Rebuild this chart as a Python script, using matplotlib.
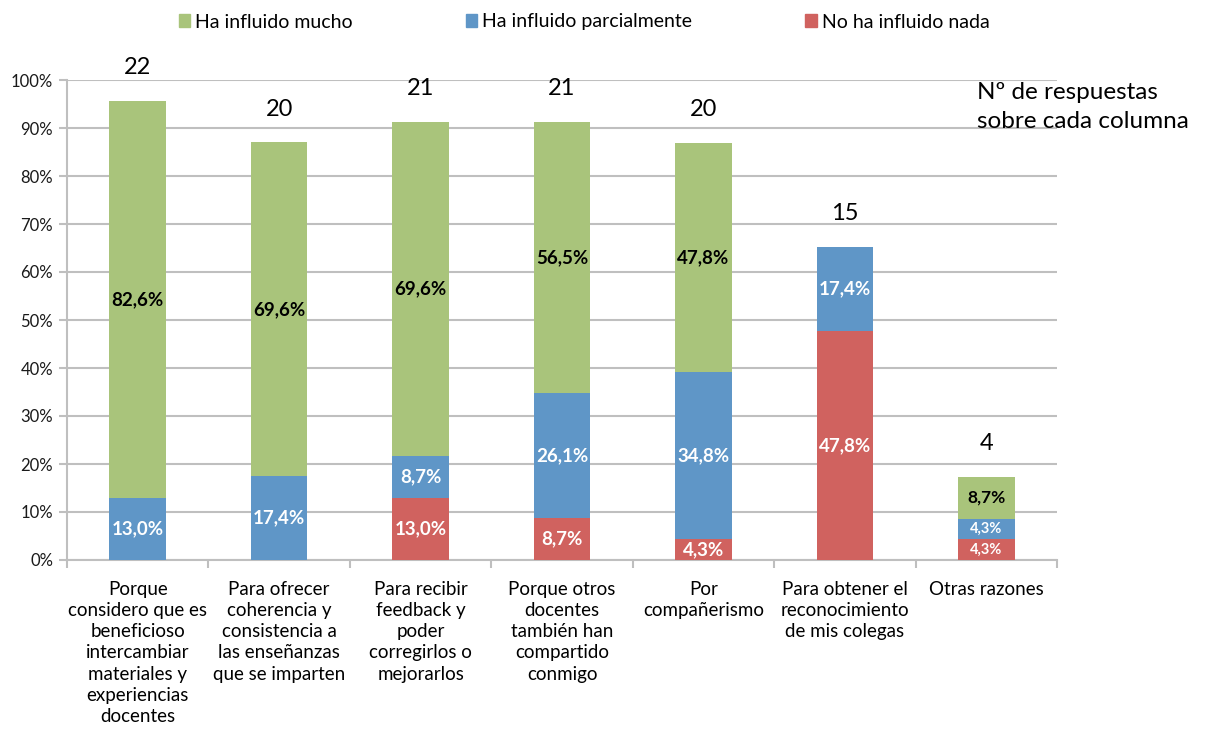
import matplotlib
matplotlib.use("Agg")
import matplotlib.pyplot as plt
from matplotlib.patches import Patch
import numpy as np

plt.rcParams['font.family'] = ['Lato', 'DejaVu Sans']

categories = [
    "Porque\nconsidero que es\nbeneficioso\nintercambiar\nmateriales y\nexperiencias\ndocentes",
    "Para ofrecer\ncoherencia y\nconsistencia a\nlas enseñanzas\nque se imparten",
    "Para recibir\nfeedback y\npoder\ncorregirlos o\nmejorarlos",
    "Porque otros\ndocentes\ntambién han\ncompartido\nconmigo",
    "Por\ncompañerismo",
    "Para obtener el\nreconocimiento\nde mis colegas",
    "Otras razones",
]
no_nada = [0.0, 0.0, 13.0, 8.7, 4.3, 47.8, 4.3]
parcial = [13.0, 17.4, 8.7, 26.1, 34.8, 17.4, 4.3]
mucho = [82.6, 69.6, 69.6, 56.5, 47.8, 0.0, 8.7]
counts = [22, 20, 21, 21, 20, 15, 4]
series_names = ["Ha influido mucho", "Ha influido parcialmente", "No ha influido nada"]

c_green = "#A9C47B"
c_blue = "#5F96C7"
c_red = "#D0625F"

W, H = 1208, 742
fig = plt.figure(figsize=(W / 100, H / 100), dpi=100)
ax = fig.add_axes([67 / W, 1 - 560 / H, (1057 - 67) / W, (560 - 80) / H])

x = np.arange(len(categories))
red = np.array(no_nada) / 100
blue = np.array(parcial) / 100
green = np.array(mucho) / 100
bw = 0.4

ax.bar(x, red, bw, color=c_red, zorder=3)
ax.bar(x, blue, bw, bottom=red, color=c_blue, zorder=3)
ax.bar(x, green, bw, bottom=red + blue, color=c_green, zorder=3)

def lab(v):
    return f"{v:.1f}%".replace(".", ",")

for i in x:
    small = (i == 6)
    fs = 10.5 if small else 13.5
    if red[i] > 0:
        ax.text(i, red[i] / 2, lab(no_nada[i]), ha='center', va='center',
                color='white', fontsize=fs, fontweight='bold', zorder=4)
    if blue[i] > 0:
        ax.text(i, red[i] + blue[i] / 2, lab(parcial[i]), ha='center', va='center',
                color='white', fontsize=fs, fontweight='bold', zorder=4)
    if green[i] > 0:
        ax.text(i, red[i] + blue[i] + green[i] / 2, lab(mucho[i]), ha='center', va='center',
                color='black', fontsize=13.5 if not small else 12.5, fontweight='bold', zorder=4)
    top = red[i] + blue[i] + green[i]
    ax.annotate(str(counts[i]), (i, top), xytext=(0, 24), textcoords='offset points',
                ha='center', va='center', fontsize=17, color='black')

ax.set_xlim(-0.5, len(categories) - 0.5)
ax.set_ylim(0, 1.0)
ax.set_yticks(np.arange(0, 1.01, 0.1))
ax.set_yticklabels([f"{int(round(t * 100))}%" for t in np.arange(0, 1.01, 0.1)],
                   fontsize=12, color='#1a1a1a')
ax.yaxis.grid(True, color='#BFBFBF', linewidth=1.5, zorder=0)
ax.set_axisbelow(True)

ax.set_xticks(np.arange(-0.5, len(categories) - 0.4, 1.0))
ax.set_xticklabels([])
ax.set_xticks(x, minor=True)
ax.set_xticklabels(categories, minor=True, fontsize=13.5, linespacing=1.3)
ax.tick_params(axis='x', which='minor', length=0, pad=15)
ax.tick_params(axis='x', which='major', length=6, color='#BFBFBF', width=1.5)
ax.tick_params(axis='y', length=6, color='#BFBFBF', width=1.5, pad=4)

for s in ['top', 'right']:
    ax.spines[s].set_visible(False)
ax.spines['left'].set_color('#BFBFBF')
ax.spines['left'].set_linewidth(1.5)
ax.spines['bottom'].set_color('#BFBFBF')
ax.spines['bottom'].set_linewidth(1.5)

handles = [Patch(color=c_green), Patch(color=c_blue), Patch(color=c_red)]
fig.legend(handles, series_names, loc='center', bbox_to_anchor=(584 / W, 1 - 22 / H),
           ncol=3, frameon=False, fontsize=14, handlelength=0.6, handleheight=0.6,
           handletextpad=0.25, columnspacing=5.8)

fig.text(977 / W, 1 - 107 / H, "Nº de respuestas\nsobre cada columna", ha='left', va='center',
         fontsize=17.5, linespacing=1.5)

fig.savefig("out.png", dpi=100)
